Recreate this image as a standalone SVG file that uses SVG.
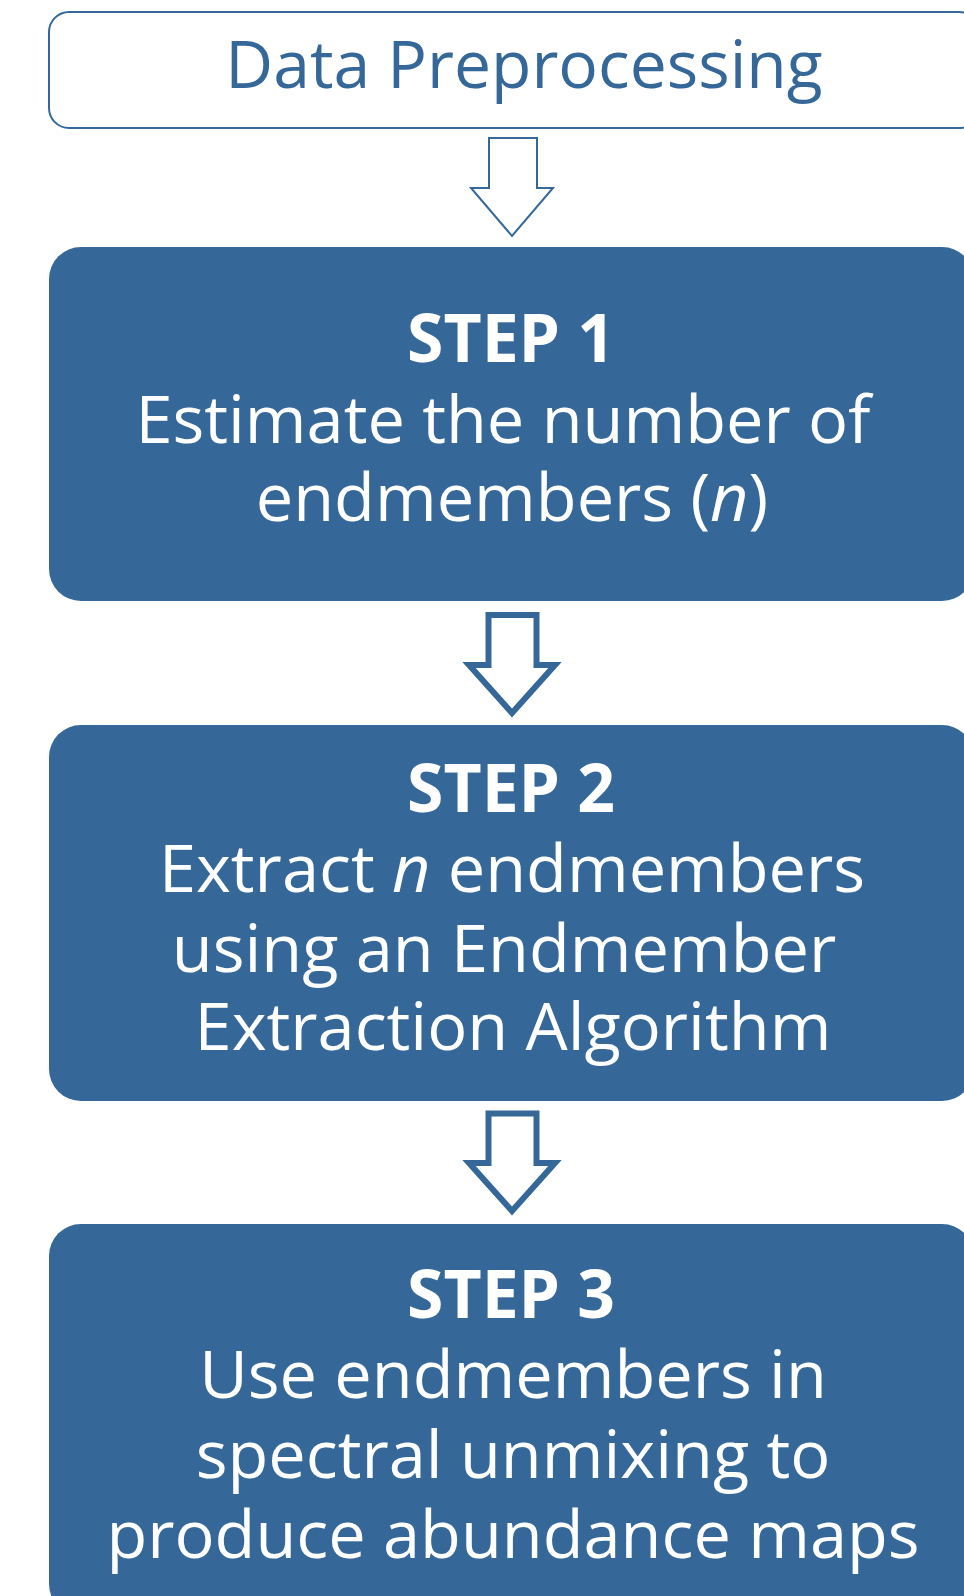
<svg xmlns="http://www.w3.org/2000/svg" width="964" height="1596" viewBox="0 0 964 1596">
  <style>
    .step { fill: #356899; }
    .title { font-family: "Open Sans", "Liberation Sans", sans-serif; font-size: 66px; font-weight: bold; fill: #ffffff; text-anchor: middle; }
    .body { font-family: "Open Sans", "Liberation Sans", sans-serif; font-size: 66.7px; fill: #ffffff; text-anchor: middle; }
    .arrow { fill: #ffffff; stroke: #356899; stroke-linejoin: miter; stroke-miterlimit: 10; }
  </style>
  <rect width="964" height="1596" fill="#ffffff"/>
  <g id="preprocessing">
    <rect x="49" y="12" width="930" height="116" rx="20" ry="20" fill="#ffffff" stroke="#356899" stroke-width="2"/>
    <text x="524" y="88" font-family="'Open Sans', 'Liberation Sans', sans-serif" font-size="66" fill="#356899" text-anchor="middle">Data Preprocessing</text>
  </g>
  <g id="step1">
    <rect class="step" x="49" y="247" width="925" height="354" rx="32" ry="32"/>
    <text class="title" x="511" y="362">STEP 1</text>
    <text class="body" x="503" y="443">Estimate the number of</text>
    <text class="body" x="512" y="521">endmembers (<tspan font-style="italic">n</tspan>)</text>
  </g>
  <g id="step2">
    <rect class="step" x="49" y="725" width="925" height="376" rx="32" ry="32"/>
    <text class="title" x="511" y="812">STEP 2</text>
    <text class="body" x="512" y="892">Extract <tspan font-style="italic">n</tspan> endmembers</text>
    <text class="body" x="504" y="972">using an Endmember</text>
    <text class="body" x="513" y="1050">Extraction Algorithm</text>
  </g>
  <g id="step3">
    <rect class="step" x="49" y="1224" width="925" height="392" rx="32" ry="32"/>
    <text class="title" x="511" y="1318">STEP 3</text>
    <text class="body" x="513" y="1398">Use endmembers in</text>
    <text class="body" x="513" y="1478">spectral unmixing to</text>
    <text class="body" x="513" y="1558">produce abundance maps</text>
  </g>
  <g id="connectors">
    <polygon class="arrow" stroke-width="2" points="489,138 537,138 537,188 553,188 512,236 471,188 489,188"/>
    <polygon class="arrow" stroke-width="6" points="488.5,615 536.5,615 536.5,665 555,665 512,713 469,665 488.5,665"/>
    <polygon class="arrow" stroke-width="6" points="488.5,1113.5 536.5,1113.5 536.5,1163 555,1163 512,1211 469,1163 488.5,1163"/>
  </g>
</svg>
